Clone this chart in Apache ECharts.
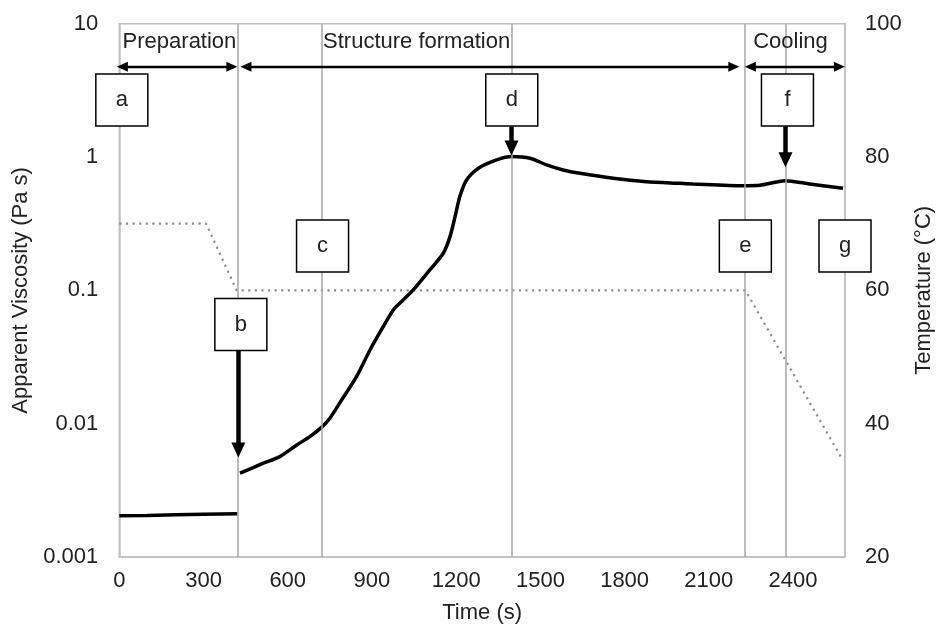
<!DOCTYPE html>
<html><head><meta charset="utf-8">
<script src="https://cdn.jsdelivr.net/npm/echarts@6/dist/echarts.min.js"></script>
<style>html,body{margin:0;padding:0;background:#fff}#c{width:936px;height:625px}</style>
</head><body><div id="c"></div>
<script>
// ---- data ----
const prepTime = [0, 100, 200, 300, 421];
const prepVisc = [0.00204, 0.00205, 0.00207, 0.00209, 0.00211];
const structTime = [430, 513, 572, 632, 679, 723, 750, 792, 845, 893, 940, 976, 1011, 1047, 1106, 1154, 1178, 1196, 1213, 1237, 1282, 1344, 1397, 1463, 1522, 1581, 1641, 1759, 1878, 1997, 2044, 2222, 2282, 2371, 2459, 2578];
const structVisc = [0.00425, 0.00505, 0.00566, 0.00692, 0.00799, 0.0095, 0.01098, 0.01507, 0.02253, 0.0357, 0.0534, 0.0713, 0.0847, 0.1007, 0.1422, 0.1897, 0.253, 0.357, 0.505, 0.673, 0.83, 0.951, 1.007, 0.979, 0.873, 0.80, 0.755, 0.693, 0.653, 0.635, 0.628, 0.609, 0.614, 0.665, 0.628, 0.583];
const tempTime = [0, 309, 418, 2230, 2576];
const tempValue = [70, 70, 60, 60, 34.6];

const xTicks = [0, 300, 600, 900, 1200, 1500, 1800, 2100, 2400];
const viscTickLabels = ['0.001', '0.01', '0.1', '1', '10'];
const tempTicks = [20, 40, 60, 80, 100];

const eventTime = [422, 722, 1397, 2228, 2373];
const boxLetters = ['a', 'b', 'c', 'd', 'e', 'f', 'g'];
const boxTime = [9, 433, 724, 1398, 2230, 2380, 2585];
const boxVisc = [2.68, 0.0555, 0.215, 2.68, 0.215, 2.68, 0.215];

const arrowTime = [424, 1397, 2373];
const arrowFrom = [0.0353, 1.69, 1.70];
const arrowTo = [0.00635, 1.17, 0.956];

const phaseNames = ['Preparation', 'Structure formation', 'Cooling'];
const phaseLabelTime = [10, 724, 2256];
const phaseLabelVisc = 7.34;
const phaseStart = [11, 451, 2248];
const phaseEnd = [401, 2189, 2565];
const phaseVisc = 4.76;

// ---- chart ----
const FONT = 'Liberation Sans, Arial, sans-serif';
const TXT = '#222';
const chart = echarts.init(document.getElementById('c'), null, {renderer: 'canvas'});

const zip = (a, b) => a.map((v, i) => [v, b[i]]);

chart.setOption({
  animation: false,
  backgroundColor: '#fff',
  textStyle: {fontFamily: FONT},
  grid: {left: 119.3, right: 91, top: 23.7, bottom: 68, show: true, borderColor: '#c0c0c0', borderWidth: 1.5,
    containLabel: false, outerBoundsMode: 'none'},
  xAxis: {
    type: 'value', min: 0, max: 2585, interval: 300,
    axisLine: {show: true, lineStyle: {color: '#c0c0c0', width: 1.5}},
    axisTick: {show: false}, splitLine: {show: false},
    axisLabel: {fontSize: 22, color: TXT, fontFamily: FONT, margin: 13,
      formatter: v => xTicks.indexOf(v) >= 0 ? String(v) : ''},
    name: 'Time (s)', nameLocation: 'middle', nameGap: 45,
    nameTextStyle: {fontSize: 22, color: TXT, fontFamily: FONT}
  },
  yAxis: [{
    type: 'log', logBase: 10, min: 0.001, max: 10,
    axisLine: {show: true, lineStyle: {color: '#c0c0c0', width: 1.5}},
    axisTick: {show: false}, splitLine: {show: false}, minorSplitLine: {show: false},
    axisLabel: {fontSize: 22, color: TXT, fontFamily: FONT, margin: 21,
      formatter: v => viscTickLabels[Math.round(Math.log10(v)) + 3] || ''},
    name: 'Apparent Viscosity (Pa s)', nameLocation: 'middle', nameGap: 84, nameRotate: 90,
    nameTextStyle: {fontSize: 22, color: TXT, fontFamily: FONT}
  }, {
    type: 'value', position: 'right', min: 20, max: 100, interval: 20,
    axisLine: {show: true, lineStyle: {color: '#c0c0c0', width: 1.5}},
    axisTick: {show: false}, splitLine: {show: false},
    axisLabel: {fontSize: 22, color: TXT, fontFamily: FONT, margin: 20,
      formatter: v => tempTicks.indexOf(v) >= 0 ? String(v) : ''},
    name: 'Temperature (°C)', nameLocation: 'middle', nameGap: 66, nameRotate: 90,
    nameTextStyle: {fontSize: 22, color: TXT, fontFamily: FONT}
  }],
  series: [
    { // event vertical lines
      type: 'line', data: [], xAxisIndex: 0, yAxisIndex: 0, silent: true, z: 1,
      markLine: {
        silent: true, symbol: 'none', label: {show: false}, animation: false,
        lineStyle: {color: '#a6a6a6', width: 1.5, type: 'solid'},
        emphasis: {disabled: true},
        data: eventTime.map(t => ({xAxis: t}))
      }
    },
    { // temperature
      type: 'line', yAxisIndex: 1, symbol: 'none', silent: true, z: 2,
      lineStyle: {color: '#8c8c8c', width: 2.2, type: [2.2, 4.4]},
      data: zip(tempTime, tempValue)
    },
    { // viscosity preparation
      type: 'line', yAxisIndex: 0, symbol: 'none', silent: true, z: 3,
      lineStyle: {color: '#000', width: 3.5},
      data: zip(prepTime, prepVisc)
    },
    { // viscosity structure + cooling
      type: 'line', yAxisIndex: 0, symbol: 'none', silent: true, z: 3, smooth: 0.25,
      lineStyle: {color: '#000', width: 3.5},
      data: zip(structTime, structVisc)
    },
    { // vertical arrows
      type: 'line', data: [], yAxisIndex: 0, silent: true, z: 5,
      markLine: {
        silent: true, label: {show: false}, animation: false,
        lineStyle: {color: '#000', width: 4.5, type: 'solid'},
        emphasis: {disabled: true},
        data: arrowTime.map((t, i) => [
          {coord: [t, arrowFrom[i]], symbol: 'none'},
          {coord: [t, arrowTo[i]], symbol: 'triangle', symbolSize: [14, 15]}
        ])
      }
    },
    { // phase arrows
      type: 'line', data: [], yAxisIndex: 0, silent: true, z: 5,
      markLine: {
        silent: true, label: {show: false}, animation: false,
        lineStyle: {color: '#000', width: 2.3, type: 'solid'},
        emphasis: {disabled: true},
        data: phaseStart.map((t, i) => [
          {coord: [t, phaseVisc], symbol: 'triangle', symbolSize: [10, 11]},
          {coord: [phaseEnd[i], phaseVisc], symbol: 'triangle', symbolSize: [10, 11]}
        ])
      }
    },
    { // phase labels
      type: 'line', data: [], yAxisIndex: 0, silent: true, z: 6,
      markPoint: {
        silent: true, animation: false, symbol: 'rect', symbolSize: 1,
        itemStyle: {color: 'rgba(0,0,0,0)'},
        label: {show: true, position: 'right', distance: 0, fontSize: 22, color: TXT, fontFamily: FONT,
          formatter: p => p.name},
        data: phaseNames.map((n, i) => ({name: n, coord: [phaseLabelTime[i], phaseLabelVisc]}))
      }
    },
    { // letter boxes
      type: 'line', data: [], yAxisIndex: 0, silent: true, z: 8,
      markPoint: {
        silent: true, animation: false, symbol: 'rect', symbolSize: 52,
        itemStyle: {color: '#fff', borderColor: '#000', borderWidth: 1.5},
        label: {show: true, position: 'inside', fontSize: 22, color: TXT, fontFamily: FONT,
          formatter: p => p.name},
        data: boxLetters.map((n, i) => ({name: n, coord: [boxTime[i], boxVisc[i]]}))
      }
    }
  ]
});
</script>
</body></html>
